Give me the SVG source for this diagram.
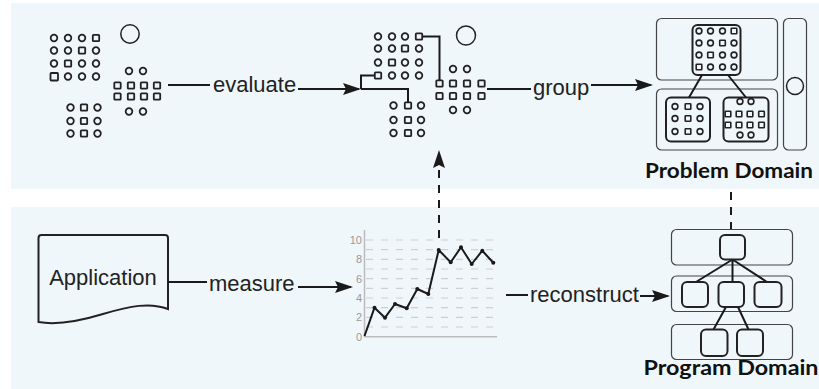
<svg xmlns="http://www.w3.org/2000/svg" xmlns:xlink="http://www.w3.org/1999/xlink" width="819" height="389" viewBox="0 0 819 389">
<style>
.panel{fill:#eff7fb}
.sh{fill:none;stroke:#222;stroke-width:1.8}
.sh2{fill:none;stroke:#222;stroke-width:1.6}
.big{fill:none;stroke:#222;stroke-width:1.5}
.outer{fill:none;stroke:#444;stroke-width:1.2}
.inner{fill:none;stroke:#222;stroke-width:2}
.edge{fill:none;stroke:#1a1a1a;stroke-width:2}
.dash{fill:none;stroke:#1a1a1a;stroke-width:2;stroke-dasharray:8 7}
.lbl{font-family:"Liberation Sans",Arial,sans-serif;font-size:22px;fill:#222}
.title{font-family:Lato,"Noto Sans",sans-serif;font-weight:700;font-size:21px;fill:#111}
.grid{stroke:#cfcfcf;stroke-width:1.2;stroke-dasharray:7 8}
.axis{fill:none;stroke:#bbb;stroke-width:1.5}
.tick{font-family:"Liberation Sans",Arial,sans-serif;font-size:11px;fill:#999;text-anchor:end}
</style>
<defs>
<circle id="c" r="3.3" class="sh"/>
<rect id="s" x="-3.2" y="-3.2" width="6.4" height="6.4" rx="0.8" class="sh"/>
<circle id="c2" r="2.9" class="sh2"/>
<rect id="s2" x="-2.8" y="-2.8" width="5.6" height="5.6" rx="0.6" class="sh2"/>
<marker id="arr" markerUnits="userSpaceOnUse" markerWidth="18" markerHeight="12" refX="16" refY="6" orient="auto">
<path d="M0,0 L18,6 L0,12 L3,6 Z" fill="#1a1a1a"/>
</marker>
</defs>

<rect class="panel" x="11" y="3" width="808" height="186"/>
<rect class="panel" x="11" y="207" width="808" height="182"/>

<g id="node-data">
<use href="#c" x="54" y="38"/><use href="#c" x="68" y="38"/><use href="#c" x="82" y="38"/><use href="#s" x="96" y="38"/>
<use href="#c" x="54" y="50.5"/><use href="#c" x="68" y="50.5"/><use href="#s" x="82" y="50.5"/><use href="#c" x="96" y="50.5"/>
<use href="#c" x="54" y="63.5"/><use href="#s" x="68" y="63.5"/><use href="#c" x="82" y="63.5"/><use href="#c" x="96" y="63.5"/>
<rect x="50.5" y="73" width="7.5" height="7.5" rx="0.8" class="sh"/><use href="#c" x="68" y="76.5"/><use href="#c" x="82" y="76.5"/><use href="#c" x="96" y="76.5"/>
<circle cx="130" cy="34" r="9.2" class="big"/>
<use href="#c" x="129" y="71"/><use href="#c" x="143" y="71"/>
<use href="#s" x="117.5" y="85.5"/><use href="#s" x="131" y="85.5"/><use href="#s" x="144" y="85.5"/><use href="#s" x="157" y="85.5"/>
<use href="#s" x="117.5" y="96.5"/><use href="#s" x="131" y="96.5"/><use href="#s" x="144" y="96.5"/><use href="#s" x="157" y="96.5"/>
<use href="#c" x="129" y="111.5"/><use href="#c" x="143" y="111.5"/>
<use href="#c" x="70.5" y="107.5"/><use href="#s" x="84" y="107.5"/><use href="#c" x="97.5" y="107.5"/>
<use href="#c" x="70.5" y="121"/><use href="#s" x="84" y="121"/><use href="#c" x="97.5" y="121"/>
<use href="#c" x="70.5" y="133.5"/><use href="#s" x="84" y="133.5"/><use href="#c" x="97.5" y="133.5"/>
</g>

<g id="node-evaluated">
<use href="#c" x="378" y="36.5"/><use href="#c" x="392" y="36.5"/><use href="#c" x="405" y="36.5"/><use href="#s" x="419" y="36.5"/>
<use href="#c" x="378" y="48.5"/><use href="#c" x="392" y="48.5"/><use href="#s" x="405" y="48.5"/><use href="#c" x="419" y="48.5"/>
<use href="#c" x="378" y="62.5"/><use href="#s" x="392" y="62.5"/><use href="#c" x="405" y="62.5"/><use href="#c" x="419" y="62.5"/>
<use href="#s" x="378" y="75.5"/><use href="#c" x="392" y="75.5"/><use href="#c" x="405" y="75.5"/><use href="#c" x="419" y="75.5"/>
<circle cx="466" cy="35.5" r="9.5" class="big"/>
<use href="#c" x="453" y="69"/><use href="#c" x="467" y="69"/>
<use href="#s" x="439.5" y="83.5"/><use href="#s" x="453" y="83.5"/><use href="#s" x="467" y="83.5"/><use href="#s" x="481.5" y="83.5"/>
<use href="#s" x="439.5" y="96"/><use href="#s" x="453" y="96"/><use href="#s" x="467" y="96"/><use href="#s" x="481.5" y="96"/>
<use href="#c" x="453" y="110"/><use href="#c" x="467" y="110"/>
<use href="#c" x="393.5" y="105.5"/><use href="#s" x="408" y="105.5"/><use href="#c" x="421" y="105.5"/>
<use href="#c" x="393.5" y="120"/><use href="#s" x="408" y="120"/><use href="#c" x="421" y="120"/>
<use href="#c" x="393.5" y="133"/><use href="#s" x="408" y="133"/><use href="#c" x="421" y="133"/>
<path class="edge" d="M422.5 36.5 H439.5 V80"/>
<path class="edge" d="M361 89 V75.5 H374.5"/>
<path class="edge" d="M361 89 H408 V102"/>
</g>

<g id="node-problem-domain">
<rect class="outer" x="656.5" y="18.5" width="121" height="61.5" rx="5"/>
<rect class="outer" x="656.5" y="89" width="121" height="61" rx="5"/>
<rect class="outer" x="783.5" y="18.5" width="23" height="131.5" rx="5"/>
<circle cx="795" cy="86" r="8.5" class="big"/>
<rect class="inner" x="692.5" y="25" width="48" height="50" rx="5"/>
<rect class="inner" x="666" y="97.5" width="44" height="44" rx="5"/>
<rect class="inner" x="723.5" y="97.5" width="45" height="44" rx="5"/>
<path class="edge" d="M702 75 L689 97.5 M728 75 L746 97.5"/>
<use href="#c2" x="699" y="31"/><use href="#c2" x="710.5" y="31"/><use href="#c2" x="722.5" y="31"/><use href="#s2" x="734" y="31"/>
<use href="#c2" x="699" y="43"/><use href="#c2" x="710.5" y="43"/><use href="#s2" x="722.5" y="43"/><use href="#c2" x="734" y="43"/>
<use href="#c2" x="699" y="55"/><use href="#s2" x="710.5" y="55"/><use href="#c2" x="722.5" y="55"/><use href="#c2" x="734" y="55"/>
<use href="#s2" x="699" y="67"/><use href="#c2" x="710.5" y="67"/><use href="#c2" x="722.5" y="67"/><use href="#c2" x="734" y="67"/>
<use href="#c2" x="675" y="106.5"/><use href="#s2" x="688" y="106.5"/><use href="#c2" x="700" y="106.5"/>
<use href="#c2" x="675" y="118.5"/><use href="#s2" x="688" y="118.5"/><use href="#c2" x="700" y="118.5"/>
<use href="#c2" x="675" y="131.5"/><use href="#s2" x="688" y="131.5"/><use href="#c2" x="700" y="131.5"/>
<use href="#c2" x="740" y="101.5"/><use href="#c2" x="751" y="101.5"/>
<use href="#s2" x="728" y="114"/><use href="#s2" x="739" y="114"/><use href="#s2" x="750" y="114"/><use href="#s2" x="761.5" y="114"/>
<use href="#s2" x="728" y="125"/><use href="#s2" x="739" y="125"/><use href="#s2" x="750" y="125"/><use href="#s2" x="761.5" y="125"/>
<use href="#c2" x="740" y="135"/><use href="#c2" x="751" y="135"/>
<text class="title" x="729" y="178" text-anchor="middle" textLength="168" lengthAdjust="spacingAndGlyphs">Problem Domain</text>
</g>

<g id="node-application">
<path class="inner" d="M38.5 322 V238 Q38.5 235 41.5 235 H165 Q168 235 168 238 V309 C150 302 130 306 103 314 C80 321 55 325 38.5 322 Z" stroke-width="1.6"/>
<text class="lbl" x="103" y="285" text-anchor="middle">Application</text>
</g>

<g id="node-chart">
<g class="grid">
<line x1="366" y1="327" x2="496" y2="327"/>
<line x1="366" y1="317.4" x2="496" y2="317.4"/>
<line x1="366" y1="307.7" x2="496" y2="307.7"/>
<line x1="366" y1="298" x2="496" y2="298"/>
<line x1="366" y1="288.4" x2="496" y2="288.4"/>
<line x1="366" y1="278.7" x2="496" y2="278.7"/>
<line x1="366" y1="269" x2="496" y2="269"/>
<line x1="366" y1="259.4" x2="496" y2="259.4"/>
<line x1="366" y1="249.7" x2="496" y2="249.7"/>
<line x1="366" y1="240" x2="496" y2="240"/>
</g>
<path class="axis" d="M364.5 230 V336.7 H497"/>
<text class="tick" x="362" y="244">10</text>
<text class="tick" x="362" y="263.4">8</text>
<text class="tick" x="362" y="282.7">6</text>
<text class="tick" x="362" y="302">4</text>
<text class="tick" x="362" y="321.4">2</text>
<text class="tick" x="362" y="340.5">0</text>
<polyline fill="none" stroke="#1a1a1a" stroke-width="2" stroke-linejoin="round" points="364.5,336 374.5,307.7 385,317.7 395,304 406.7,308.3 417.3,289 428.3,294 438.7,250 450.7,262.3 461,247.3 471.7,264 482.3,250.7 493.3,262.7"/>
<g fill="#1a1a1a">
<circle cx="374.5" cy="307.7" r="2"/><circle cx="385" cy="317.7" r="2"/><circle cx="395" cy="304" r="2"/><circle cx="406.7" cy="308.3" r="2"/><circle cx="417.3" cy="289" r="2"/><circle cx="428.3" cy="294" r="2"/><circle cx="438.7" cy="250" r="2"/><circle cx="450.7" cy="262.3" r="2"/><circle cx="461" cy="247.3" r="2"/><circle cx="471.7" cy="264" r="2"/><circle cx="482.3" cy="250.7" r="2"/><circle cx="493.3" cy="262.7" r="2"/>
</g>
</g>

<g id="node-program-domain">
<rect class="outer" x="671.5" y="229.5" width="121" height="35.5" rx="5"/>
<rect class="outer" x="671.5" y="276" width="121" height="35.5" rx="5"/>
<rect class="outer" x="671.5" y="324.5" width="121" height="35" rx="5"/>
<path class="edge" d="M732.5 259.5 L696 282 M732.5 259.5 V282 M732.5 259.5 L767 282 M726 307 L713.5 329.5 M738 307 L748.5 329.5"/>
<rect class="inner" x="720" y="235" width="25" height="24.5" rx="5"/>
<rect class="inner" x="682" y="282" width="26" height="25" rx="5"/>
<rect class="inner" x="718.5" y="282" width="25.5" height="25" rx="5"/>
<rect class="inner" x="754.5" y="282" width="27" height="25" rx="5"/>
<rect class="inner" x="701" y="329.5" width="26.5" height="26.5" rx="5"/>
<rect class="inner" x="737" y="329.5" width="26" height="26.5" rx="5"/>
<text class="title" x="731" y="375" text-anchor="middle" textLength="175" lengthAdjust="spacingAndGlyphs">Program Domain</text>
</g>

<g id="connectors">
<path class="edge" d="M168 85 H210"/>
<text class="lbl" x="213" y="92">evaluate</text>
<path class="edge" d="M298 89 H359" marker-end="url(#arr)"/>
<path class="edge" d="M487 89 H531"/>
<text class="lbl" x="533" y="95">group</text>
<path class="edge" d="M591 85 H651" marker-end="url(#arr)"/>
<path class="dash" d="M439 238 V152" marker-end="url(#arr)"/>
<path class="dash" d="M731 192 V229"/>
<path class="edge" d="M168 282 H207"/>
<text class="lbl" x="209" y="291">measure</text>
<path class="edge" d="M298 287 H351" marker-end="url(#arr)"/>
<path class="edge" d="M506 295 H528"/>
<text class="lbl" x="530" y="302">reconstruct</text>
<path class="edge" d="M640 296 H668" marker-end="url(#arr)"/>
</g>
</svg>
